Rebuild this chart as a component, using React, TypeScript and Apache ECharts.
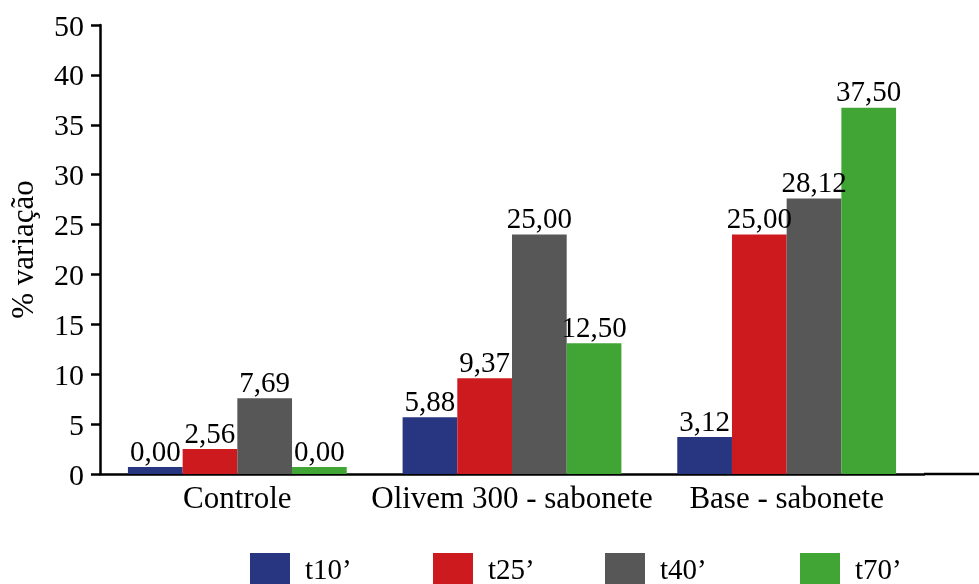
import React, { useEffect, useRef } from "react";
import * as echarts from "echarts";

const categories = ["Controle", "Olivem 300 - sabonete", "Base - sabonete"];
const seriesNames = ["t10’", "t25’", "t40’", "t70’"];
const colors = ["#283580", "#cd1a1e", "#575757", "#41a535"];
// bar heights as drawn in the picture
const t10Heights = [0.7, 5.7, 3.7];
const t25Heights = [2.5, 9.6, 24.0];
const t40Heights = [7.6, 24.0, 27.6];
const t70Heights = [0.7, 13.1, 36.7];
// printed value labels
const t10Labels = ["0,00", "5,88", "3,12"];
const t25Labels = ["2,56", "9,37", "25,00"];
const t40Labels = ["7,69", "25,00", "28,12"];
const t70Labels = ["0,00", "12,50", "37,50"];
const yTickLabels = ["0", "5", "10", "15", "20", "25", "30", "35", "40", "50"];

const FONT = "Liberation Serif";

export default function App() {
  const ref = useRef<HTMLDivElement>(null);
  useEffect(() => {
    if (!ref.current) return;
    const chart = echarts.init(ref.current, undefined, { renderer: "svg" });
    const heights = [t10Heights, t25Heights, t40Heights, t70Heights];
    const labels = [t10Labels, t25Labels, t40Labels, t70Labels];
    const legendLefts = [250, 433, 605, 800];
    chart.setOption({
      animation: false,
      textStyle: { fontFamily: FONT },
      grid: { left: 100, right: 55, top: 25, bottom: 110, containLabel: false, outerBoundsMode: "none" },
      legend: seriesNames.map((n, i) => ({
        data: [n],
        left: legendLefts[i],
        top: 553,
        padding: 0,
        itemWidth: 40,
        itemHeight: 31,
        icon: "rect",
        textStyle: { fontFamily: FONT, fontSize: 29, color: "#000", padding: [0, 0, 0, 10] },
      })),
      xAxis: {
        type: "category",
        data: categories,
        axisLine: { lineStyle: { color: "#000", width: 2.5 } },
        axisTick: { show: false },
        axisLabel: { fontFamily: FONT, fontSize: 31, color: "#000", margin: 8, interval: 0 },
      },
      yAxis: {
        type: "value",
        min: 0,
        max: 45,
        interval: 5,
        name: "% variação",
        nameLocation: "middle",
        nameGap: 62,
        nameTextStyle: { fontFamily: FONT, fontSize: 31, color: "#000" },
        axisLine: { show: true, lineStyle: { color: "#000", width: 2.5 } },
        axisTick: { show: true, length: 9, lineStyle: { color: "#000", width: 2.5 } },
        splitLine: { show: false },
        axisLabel: {
          fontFamily: FONT,
          fontSize: 30,
          color: "#000",
          margin: 16,
          formatter: (_v: number, i: number) => yTickLabels[i],
        },
      },
      graphic: [
        {
          type: "line",
          shape: { x1: 924, y1: 474, x2: 979, y2: 474 },
          style: { stroke: "#000", lineWidth: 2.5 },
        },
      ],
      series: seriesNames.map((n, si) => ({
        name: n,
        type: "bar",
        barWidth: 54.7,
        barGap: "0%",
        itemStyle: { color: colors[si] },
        data: heights[si].map((h, ci) => ({
          value: h,
          label: { formatter: labels[si][ci] },
        })),
        label: {
          show: true,
          position: "top",
          distance: 2,
          fontFamily: FONT,
          fontSize: 29,
          color: "#000",
        },
      })),
    });
    return () => chart.dispose();
  }, []);
  return (
    <div
      ref={ref}
      style={{ position: "fixed", left: 0, top: 0, width: 979, height: 584 }}
    />
  );
}
